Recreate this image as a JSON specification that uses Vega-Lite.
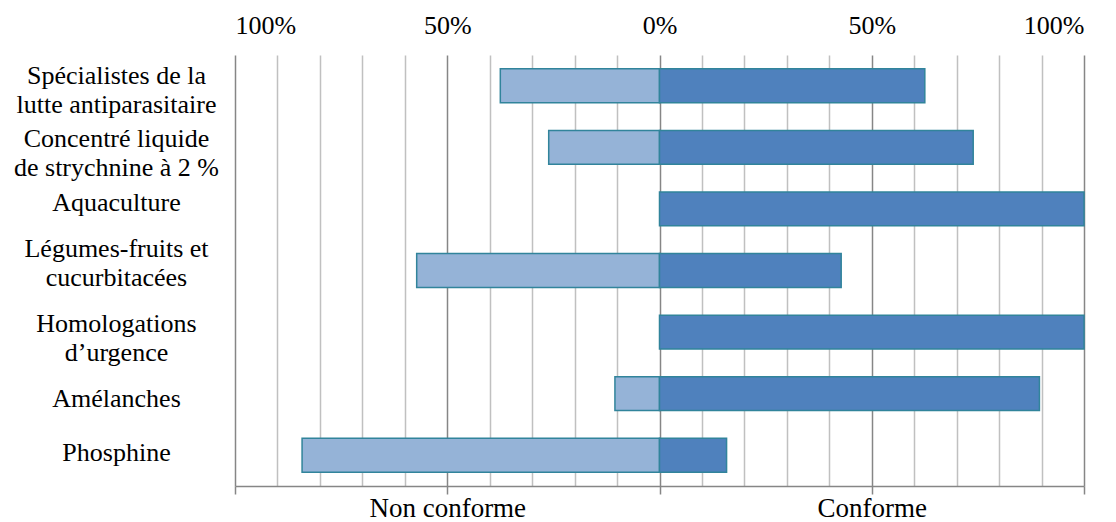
{
  "$schema": "https://vega.github.io/schema/vega-lite/v6.json",
  "width": 849,
  "height": 431,
  "autosize": {"type": "none"},
  "padding": {"left": 235, "top": 55, "right": 32, "bottom": 36},
  "background": "white",
  "config": {
    "view": {"stroke": null},
    "font": "Liberation Serif",
    "axis": {"labelFont": "Liberation Serif", "labelColor": "#000000"}
  },
  "data": {
    "values": [
      {"category": "Spécialistes de la|lutte antiparasitaire", "status": "Non conforme", "value": -0.375},
      {"category": "Spécialistes de la|lutte antiparasitaire", "status": "Conforme", "value": 0.625},
      {"category": "Concentré liquide|de strychnine à 2 %", "status": "Non conforme", "value": -0.261},
      {"category": "Concentré liquide|de strychnine à 2 %", "status": "Conforme", "value": 0.739},
      {"category": "Aquaculture", "status": "Non conforme", "value": 0},
      {"category": "Aquaculture", "status": "Conforme", "value": 1.0},
      {"category": "Légumes-fruits et|cucurbitacées", "status": "Non conforme", "value": -0.572},
      {"category": "Légumes-fruits et|cucurbitacées", "status": "Conforme", "value": 0.428},
      {"category": "Homologations|d’urgence", "status": "Non conforme", "value": 0},
      {"category": "Homologations|d’urgence", "status": "Conforme", "value": 1.0},
      {"category": "Amélanches", "status": "Non conforme", "value": -0.105},
      {"category": "Amélanches", "status": "Conforme", "value": 0.895},
      {"category": "Phosphine", "status": "Non conforme", "value": -0.842},
      {"category": "Phosphine", "status": "Conforme", "value": 0.158}
    ]
  },
  "layer": [
    {
      "mark": {"type": "bar", "stroke": "#31849b", "strokeWidth": 1.5},
      "transform": [{"filter": "datum.value != 0"}],
      "encoding": {
        "y": {
          "field": "category",
          "type": "nominal",
          "sort": null,
          "scale": {"paddingInner": 0.45, "paddingOuter": 0.225},
          "axis": {
            "title": null,
            "ticks": false,
            "domain": false,
            "labelAlign": "center",
            "labelBaseline": "middle",
            "labelPadding": 119,
            "labelFontSize": 26,
            "labelLineHeight": 29,
            "labelLimit": 300,
            "labelOffset": {
              "condition": [
                {"test": "datum.value == 'Spécialistes de la|lutte antiparasitaire'", "value": -10},
                {"test": "datum.value == 'Concentré liquide|de strychnine à 2 %'", "value": -8},
                {"test": "datum.value == 'Aquaculture'", "value": -6},
                {"test": "datum.value == 'Légumes-fruits et|cucurbitacées'", "value": -22},
                {"test": "datum.value == 'Homologations|d’urgence'", "value": -8},
                {"test": "datum.value == 'Amélanches'", "value": 5}
              ],
              "value": -2
            },
            "labelExpr": "split(datum.label, '|')"
          }
        },
        "x": {
          "field": "value",
          "type": "quantitative",
          "scale": {"domain": [-1, 1], "nice": false, "zero": false},
          "axis": {
            "orient": "bottom",
            "title": null,
            "values": [-1, -0.9, -0.8, -0.7, -0.6, -0.5, -0.4, -0.3, -0.2, -0.1, 0, 0.1, 0.2, 0.3, 0.4, 0.5, 0.6, 0.7, 0.8, 0.9, 1],
            "grid": true,
            "gridColor": {"condition": {"test": "abs(round(datum.value*10)) % 5 == 0", "value": "#868686"}, "value": "#c0c0c0"},
            "gridWidth": 1.5,
            "domainColor": "#868686",
            "domainWidth": 1.5,
            "ticks": true,
            "tickSize": 8,
            "tickWidth": 1.5,
            "tickColor": {"condition": {"test": "abs(round(datum.value*10)) % 5 == 0", "value": "#868686"}, "value": "transparent"},
            "labelExpr": "datum.value == -0.5 ? 'Non conforme' : (datum.value == 0.5 ? 'Conforme' : '')",
            "labelFontSize": 27,
            "labelPadding": 22,
            "labelBaseline": "alphabetic"
          }
        },
        "color": {
          "field": "status",
          "type": "nominal",
          "scale": {"domain": ["Non conforme", "Conforme"], "range": ["#95b3d7", "#4f81bd"]},
          "legend": null
        }
      }
    },
    {
      "mark": {"type": "rule", "opacity": 0},
      "encoding": {
        "x": {
          "field": "value",
          "type": "quantitative",
          "axis": {
            "orient": "top",
            "title": null,
            "values": [-1, -0.5, 0, 0.5, 1],
            "grid": false,
            "domain": false,
            "ticks": false,
            "labelPadding": 22,
            "labelFontSize": 26,
            "labelBaseline": "alphabetic",
            "labelExpr": "format(abs(datum.value), '.0%')"
          }
        }
      }
    }
  ],
  "resolve": {"axis": {"x": "independent"}}
}
